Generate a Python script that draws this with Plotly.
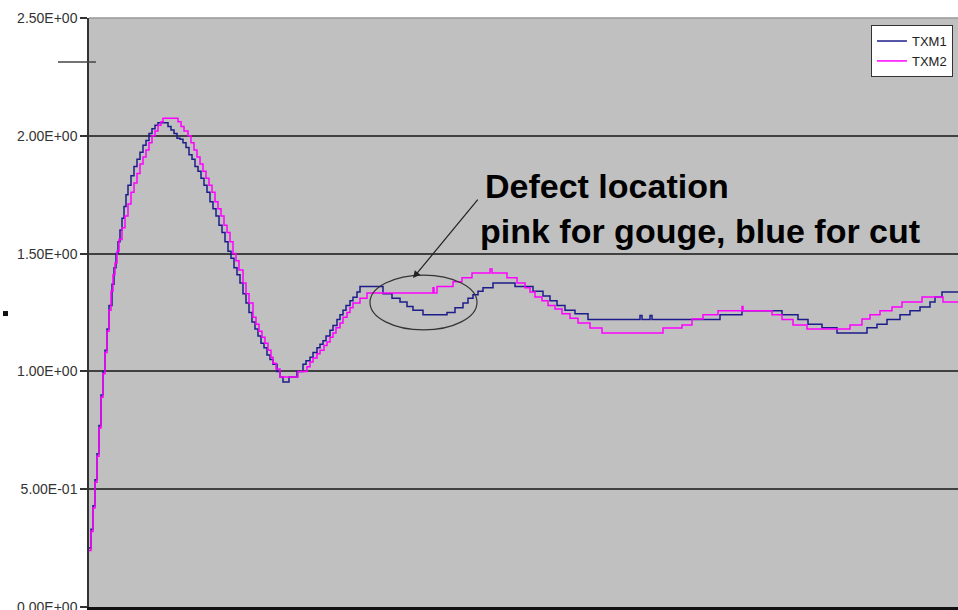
import plotly.graph_objects as go

# ---------------- data ----------------
sample_txm1 = [0, 2, 4, 6, 8, 10, 12, 14, 16, 18, 20, 23, 25, 27, 29, 31, 33, 35, 37, 39, 42, 45, 48, 51, 54,
               57, 60, 63, 66, 69, 79, 82, 85, 88, 91, 94, 97, 100, 103, 106, 109, 112, 115, 118, 121, 124,
               127, 130, 133, 136, 139, 142, 145, 148, 151, 154, 157, 160, 163, 166, 169, 172, 175, 178, 181,
               184, 188, 191, 194, 200, 208, 214, 217, 221, 224, 228, 231, 234, 237, 241, 244, 248, 251, 254,
               257, 261, 264, 268, 271, 294, 303, 311, 318, 324, 334, 358, 366, 374, 379, 384, 389, 394, 404,
               426, 444, 454, 461, 468, 476, 486, 499, 551, 553, 561, 563, 631, 653, 693, 709, 719, 733, 748,
               778, 788, 798, 811, 821, 831, 841, 846, 853, 869]
txm1 = [0.25, 0.33, 0.43, 0.54, 0.65, 0.77, 0.90, 1.00, 1.09, 1.18, 1.28, 1.37, 1.44, 1.50, 1.55, 1.60, 1.65,
        1.70, 1.75, 1.79, 1.83, 1.87, 1.90, 1.93, 1.96, 1.98, 2.01, 2.03, 2.045, 2.055, 2.04, 2.025, 2.01,
        1.99, 1.985, 1.97, 1.95, 1.92, 1.90, 1.87, 1.85, 1.82, 1.79, 1.76, 1.72, 1.69, 1.66, 1.62, 1.59,
        1.55, 1.51, 1.48, 1.44, 1.41, 1.375, 1.33, 1.29, 1.25, 1.21, 1.18, 1.15, 1.12, 1.10, 1.07, 1.05,
        1.03, 1.00, 0.976, 0.955, 0.976, 1.00, 1.03, 1.045, 1.06, 1.08, 1.10, 1.115, 1.13, 1.15, 1.175,
        1.195, 1.22, 1.24, 1.26, 1.28, 1.30, 1.315, 1.337, 1.36, 1.33, 1.31, 1.295, 1.275, 1.26, 1.24,
        1.25, 1.27, 1.29, 1.31, 1.325, 1.34, 1.355, 1.375, 1.36, 1.34, 1.32, 1.30, 1.28, 1.26, 1.245,
        1.22, 1.237, 1.22, 1.237, 1.22, 1.24, 1.257, 1.24, 1.22, 1.20, 1.185, 1.163, 1.185, 1.20, 1.22,
        1.24, 1.257, 1.273, 1.295, 1.316, 1.337, 1.337]

sample_txm2 = [0, 2, 4, 6, 8, 10, 12, 14, 16, 18, 20, 22, 24, 26, 28, 30, 33, 36, 39, 42, 45, 48, 51, 54, 57,
               60, 63, 66, 69, 72, 74, 89, 92, 95, 99, 102, 105, 108, 111, 114, 117, 120, 123, 126, 129, 132,
               135, 138, 141, 144, 147, 150, 154, 157, 160, 164, 167, 170, 173, 176, 179, 182, 184, 187, 191,
               209, 218, 221, 224, 228, 231, 235, 238, 241, 244, 247, 251, 254, 258, 261, 264, 271, 278, 344,
               345, 348, 364, 373, 383, 401, 403, 418, 428, 436, 441, 446, 453, 459, 466, 473, 481, 489, 501,
               513, 574, 593, 603, 614, 629, 653, 654, 683, 693, 704, 718, 761, 773, 781, 791, 803, 813, 833,
               854, 869]
txm2 = [0.24, 0.32, 0.42, 0.53, 0.64, 0.76, 0.89, 0.99, 1.08, 1.17, 1.26, 1.34, 1.41, 1.46, 1.51, 1.56, 1.61,
        1.66, 1.71, 1.76, 1.80, 1.84, 1.88, 1.91, 1.94, 1.97, 2.00, 2.02, 2.045, 2.06, 2.075, 2.06, 2.04,
        2.02, 2.00, 1.97, 1.94, 1.91, 1.88, 1.85, 1.82, 1.79, 1.76, 1.72, 1.69, 1.66, 1.62, 1.59, 1.55,
        1.50, 1.47, 1.43, 1.375, 1.33, 1.29, 1.23, 1.20, 1.17, 1.145, 1.12, 1.09, 1.06, 1.035, 1.01, 0.976,
        1.00, 1.02, 1.04, 1.057, 1.075, 1.09, 1.11, 1.125, 1.145, 1.163, 1.185, 1.205, 1.23, 1.25, 1.27,
        1.29, 1.31, 1.333, 1.355, 1.333, 1.36, 1.38, 1.397, 1.418, 1.435, 1.418, 1.397, 1.375, 1.355,
        1.337, 1.316, 1.30, 1.28, 1.265, 1.245, 1.226, 1.205, 1.184, 1.163, 1.184, 1.197, 1.222, 1.24,
        1.257, 1.275, 1.257, 1.24, 1.22, 1.197, 1.18, 1.197, 1.222, 1.24, 1.257, 1.273, 1.295, 1.316,
        1.295, 1.295]

series_names = ["TXM1", "TXM2"]
y_tick_values = [0.0, 0.5, 1.0, 1.5, 2.0, 2.5]
y_tick_labels = ["0.00E+00", "5.00E-01", "1.00E+00", "1.50E+00", "2.00E+00", "2.50E+00"]
annotation_lines = ["Defect location", "pink for gouge, blue for cut"]

# ---------------- figure ----------------
FONT = "Arial, Liberation Sans, sans-serif"
fig = go.Figure()
fig.add_trace(go.Scatter(x=sample_txm1, y=txm1, mode="lines", name=series_names[0],
                         line=dict(color="#1c1c8a", width=1.5, shape="hv")))
fig.add_trace(go.Scatter(x=sample_txm2, y=txm2, mode="lines", name=series_names[1],
                         line=dict(color="#ff00ff", width=1.5, shape="hv")))

fig.update_layout(
    width=958, height=610,
    margin=dict(l=89, r=0, t=18, b=3, autoexpand=False),
    paper_bgcolor="white", plot_bgcolor="#c0c0c0",
    font=dict(family=FONT, color="#333333"),
    showlegend=True,
    legend=dict(x=0.9942, y=0.988, xanchor="right", yanchor="top",
                bgcolor="white", bordercolor="#333333", borderwidth=1,
                font=dict(family=FONT, size=13, color="#222222"),
                itemwidth=30, tracegroupgap=0),
)
fig.update_xaxes(range=[0, 869], showgrid=False, zeroline=False, showticklabels=False,
                 ticks="", showline=True, linecolor="#111111", linewidth=3)
fig.update_yaxes(range=[0, 2.5], tickvals=y_tick_values, ticktext=y_tick_labels,
                 tickfont=dict(family=FONT, size=14, color="#333333"),
                 ticklabeloverflow="allow",
                 showgrid=True, gridcolor="#404040", gridwidth=1.5, zeroline=False,
                 ticks="outside", ticklen=7, tickcolor="#333333", tickwidth=1.5,
                 showline=True, linecolor="#333333", linewidth=1.5, automargin=False)

# top border of plot area, stray marks at left
fig.add_shape(type="line", xref="paper", yref="paper", x0=0, x1=1, y0=1, y1=1,
              line=dict(color="#999999", width=1.5))
fig.add_shape(type="line", xref="paper", yref="paper", x0=-0.0357, x1=0.008, y0=0.9253, y1=0.9253,
              line=dict(color="#444444", width=1.5))
fig.add_shape(type="rect", xref="paper", yref="paper", x0=-0.099, x1=-0.0932, y0=0.494, y1=0.5025,
              line=dict(width=0), fillcolor="#111111")

# ellipse around defect
fig.add_shape(type="circle", xref="x", yref="y", x0=281, x1=388, y0=1.176, y1=1.409,
              line=dict(color="#333333", width=1.2))

# arrow
fig.add_annotation(x=324, y=1.396, ax=390, ay=1.735, xref="x", yref="y", axref="x", ayref="y",
                   text="", showarrow=True, arrowhead=2, arrowsize=1.2, arrowwidth=1.2,
                   arrowcolor="#222222")

fig.add_annotation(x=394, y=1.787, xref="x", yref="y", xanchor="left", yanchor="middle",
                   text="<b>%s</b>" % annotation_lines[0], showarrow=False,
                   font=dict(family=FONT, size=34, color="black"))
fig.add_annotation(x=389, y=1.596, xref="x", yref="y", xanchor="left", yanchor="middle",
                   text="<b>%s</b>" % annotation_lines[1], showarrow=False,
                   font=dict(family=FONT, size=34, color="black"))

fig.write_html("out.html", config={"displayModeBar": False},
               post_script="document.body.style.margin='0';document.body.style.overflow='hidden';")
